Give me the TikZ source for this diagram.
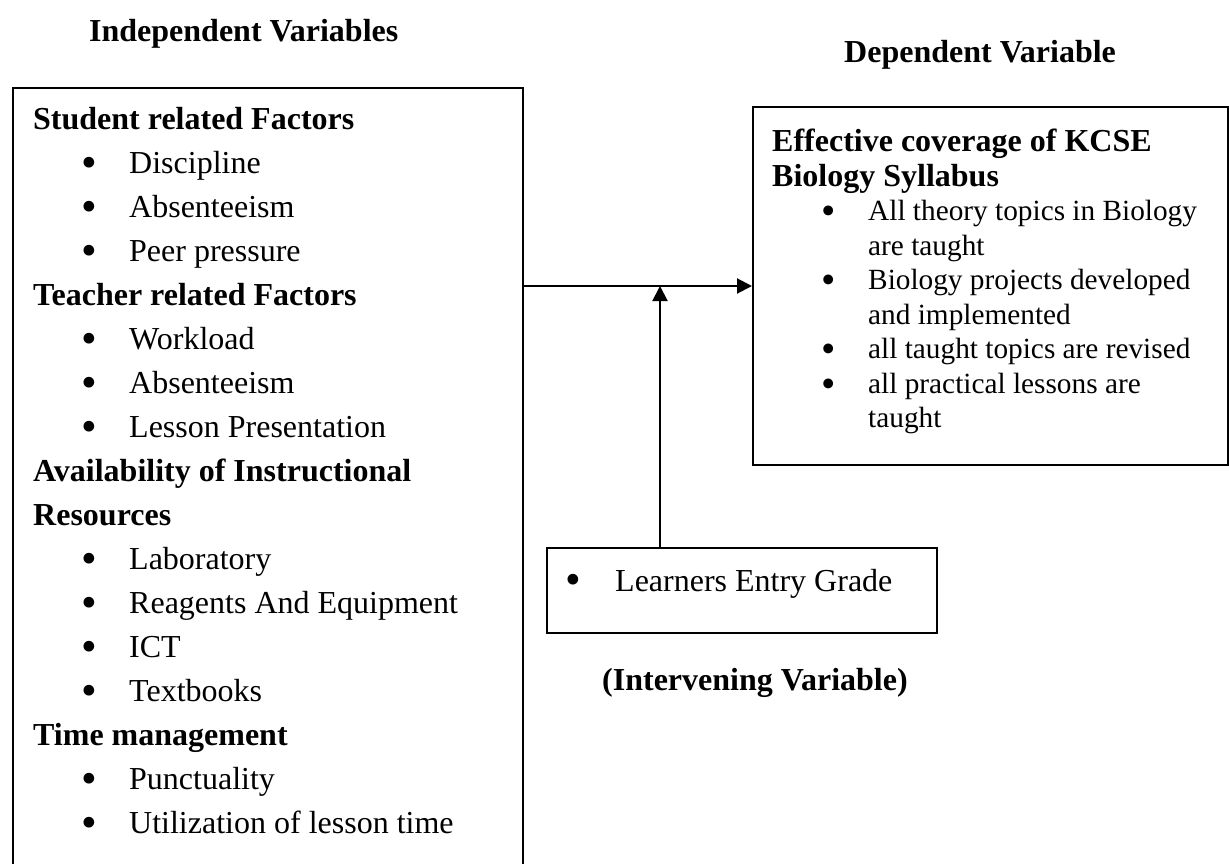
\documentclass[tikz,border=0pt]{standalone}
\usepackage{fontspec}
\setmainfont{Liberation Serif}
\usetikzlibrary{arrows.meta}
\tikzset{
  frame/.style={draw, line width=2pt, rectangle, inner sep=0pt, anchor=north west},
  txt/.style={inner sep=0pt, anchor=base west},
  head/.style={txt, font=\fontsize{32}{38}\selectfont\bfseries},
  conn/.style={line width=2pt, -{Triangle[length=15pt,width=15pt]}},
}
\newcommand\bigbul{\makebox[0pt]{\smash{\raisebox{-0.12em}{\scalebox{1.4}{\textbullet}}}}}
\newcommand\bitem[1]{\par\hangindent=96pt\hspace*{56pt}\bigbul\hspace*{40pt}#1}
\begin{document}
\begin{tikzpicture}[x=1pt,y=-1pt]
\useasboundingbox (0,0) rectangle (1229,864);
\clip (0,0) rectangle (1229,864);
% headings
\node[head] (indep) at (89,42) {Independent Variables};
\node[head] (dep) at (844,63) {Dependent Variable};
% left box
\node[frame, minimum width=510pt, minimum height=820pt] (leftbox) at (12,87) {};
\node[txt] (lefttext) at (33,130) {\parbox[t]{480pt}{\raggedright\fontsize{32}{44}\selectfont
\textbf{Student related Factors}
\bitem{Discipline}
\bitem{Absenteeism}
\bitem{Peer pressure}
\par\textbf{Teacher related Factors}
\bitem{Workload}
\bitem{Absenteeism}
\bitem{Lesson Presentation}
\par\textbf{Availability of Instructional\newline Resources}
\bitem{Laboratory}
\bitem{Reagents And Equipment}
\bitem{ICT}
\bitem{Textbooks}
\par\textbf{Time management}
\bitem{Punctuality}
\bitem{Utilization of lesson time}\par}};
% right box
\node[frame, minimum width=475pt, minimum height=358pt] (rightbox) at (752,106) {};
\node[txt] (righttext) at (772,152) {\parbox[t]{452pt}{\raggedright\fontsize{32}{34.5}\selectfont
\textbf{Effective coverage of KCSE\newline Biology Syllabus}\par
\fontsize{29.3}{34.5}\selectfont
\bitem{All theory topics in Biology\newline are taught}
\bitem{Biology projects developed\newline and implemented}
\bitem{all taught topics are revised}
\bitem{all practical lessons are\newline taught}\par}};
% intervening box
\node[frame, minimum width=390pt, minimum height=85pt] (smallbox) at (546,547) {};
\node[txt, font=\fontsize{32}{38}\selectfont] (smalltext) at (546,591)
  {\hspace*{27pt}\bigbul\hspace*{42pt}Learners Entry Grade};
\node[head] (interv) at (602,690) {(Intervening Variable)};
% connectors
\coordinate (join) at (660,286);
\draw[conn] (leftbox.east |- rightbox.west) -- (rightbox.west);
\draw[conn] (smallbox.north -| join) -- (join);
\end{tikzpicture}
\end{document}
